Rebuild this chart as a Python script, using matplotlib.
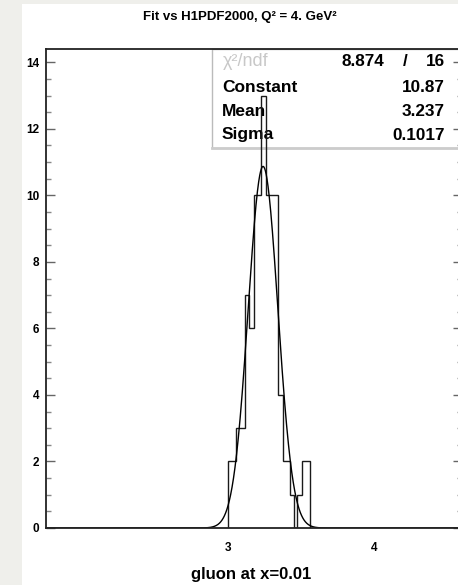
import numpy as np
import matplotlib
matplotlib.use("Agg")
import matplotlib.pyplot as plt
from matplotlib.patches import Rectangle

plt.rcParams['font.family'] = ['Liberation Sans', 'DejaVu Sans']

# ---- data ----
bin_edges = [2.995, 3.055, 3.113, 3.144, 3.175, 3.223, 3.257, 3.342,
             3.371, 3.421, 3.449, 3.469, 3.505, 3.558]
bin_counts = [2, 3, 7, 6, 10, 13, 10, 4, 2, 1, 0, 1, 2]

fit_constant = 10.87
fit_mean = 3.237
fit_sigma = 0.1017
chi2_text = "8.874"
ndf_text = "16"

x_ticks = [3, 4]
x_ticklabels = ["3", "4"]
y_ticks = [0, 2, 4, 6, 8, 10, 12, 14]

title = "Fit vs H1PDF2000, Q² = 4. GeV²"
xlabel = "gluon at x=0.01"
stat_names = ["Constant", "Mean", "Sigma"]
stat_values = ["10.87", "3.237", "0.1017"]

W, H = 458, 585
fig = plt.figure(figsize=(W / 100, H / 100), dpi=100)
fig.patch.set_facecolor('#efefeb')

def fx(px):
    return px / W

def fy(py):
    return 1 - py / H

# white canvas
fig.patches.append(Rectangle((fx(22), 0), 1 - fx(22), fy(4), transform=fig.transFigure,
                             facecolor='white', edgecolor='none', zorder=-5))

left, right, top, bottom = 46, 462, 49, 528
ax = fig.add_axes([fx(left), fy(bottom), fx(right - left), (bottom - top) / H])
ax.set_zorder(1)
ax.set_xlim(1.75, 4.6)
ax.set_ylim(0, 14.4)
ax.set_facecolor('white')

# stats box
box_x0 = (212 - left) / (right - left)
box_y0 = (bottom - 148) / (bottom - top)
ax.add_patch(Rectangle((box_x0, box_y0), 1.2 - box_x0, 1.0 - box_y0, transform=ax.transAxes,
                       facecolor='white', edgecolor='#bbbbbb', lw=1.0, zorder=1, clip_on=False))
ax.plot([box_x0, 1.0], [box_y0, box_y0], transform=ax.transAxes, color='#cccccc', lw=2.0,
        zorder=1.1, clip_on=False)

# stats text (in axes, under the histogram)
def axpt(px, py):
    return (px - left) / (right - left), (bottom - py) / (bottom - top)

ax.text(*axpt(223, 62), "χ²/ndf", color='#c8c8c8', fontsize=13, ha='left', va='center',
        transform=ax.transAxes, zorder=2)
ax.text(*axpt(384, 62), chi2_text, fontsize=12.3, fontweight='bold', ha='right', va='center',
        transform=ax.transAxes, zorder=2)
ax.text(*axpt(405, 62), "/", fontsize=12.3, fontweight='bold', ha='center', va='center',
        transform=ax.transAxes, zorder=2)
ax.text(*axpt(445, 62), ndf_text, fontsize=12.3, fontweight='bold', ha='right', va='center',
        transform=ax.transAxes, zorder=2)
for i, (n, v) in enumerate(zip(stat_names, stat_values)):
    yy = 87 + i * 24
    ax.text(*axpt(222, yy), n, fontsize=12.5, fontweight='bold', ha='left', va='center',
            transform=ax.transAxes, zorder=2)
    ax.text(*axpt(445, yy), v, fontsize=12.3, fontweight='bold', ha='right', va='center',
            transform=ax.transAxes, zorder=2)

# histogram
ax.stairs(bin_counts, bin_edges, baseline=0, color='#1a1a1a', lw=1.0, zorder=4)

# gaussian fit
xs = np.linspace(1.75, 4.6, 2000)
ys = fit_constant * np.exp(-0.5 * ((xs - fit_mean) / fit_sigma) ** 2)
ax.plot(xs, ys, color='black', lw=1.0, zorder=5)

# ticks
ax.set_xticks(x_ticks)
ax.set_xticklabels(x_ticklabels)
ax.set_yticks(y_ticks)
ax.set_yticks(np.arange(0, 14.4, 0.5), minor=True)
ax.tick_params(axis='x', which='both', length=0, pad=10, labelsize=8.5)
ax.tick_params(axis='y', which='major', direction='in', length=6.5, width=1.0,
               color='#666666', left=True, right=True, labelsize=8.5, pad=4.7)
ax.tick_params(axis='y', which='minor', direction='in', length=3.6, width=1.0,
               color='#888888', left=True, right=True)
for lab in ax.get_xticklabels() + ax.get_yticklabels():
    lab.set_fontweight('bold')

for s in ['left', 'bottom', 'top', 'right']:
    ax.spines[s].set_color('#222222')
    ax.spines[s].set_linewidth(1.3)
    ax.spines[s].set_zorder(6)

fig.text(fx(240), fy(17), title, fontsize=9.5, fontweight='bold', ha='center', va='center')
fig.text(fx(251), fy(575), xlabel, fontsize=12, fontweight='bold', ha='center', va='center')

fig.savefig("out.png", dpi=100, facecolor=fig.get_facecolor())
